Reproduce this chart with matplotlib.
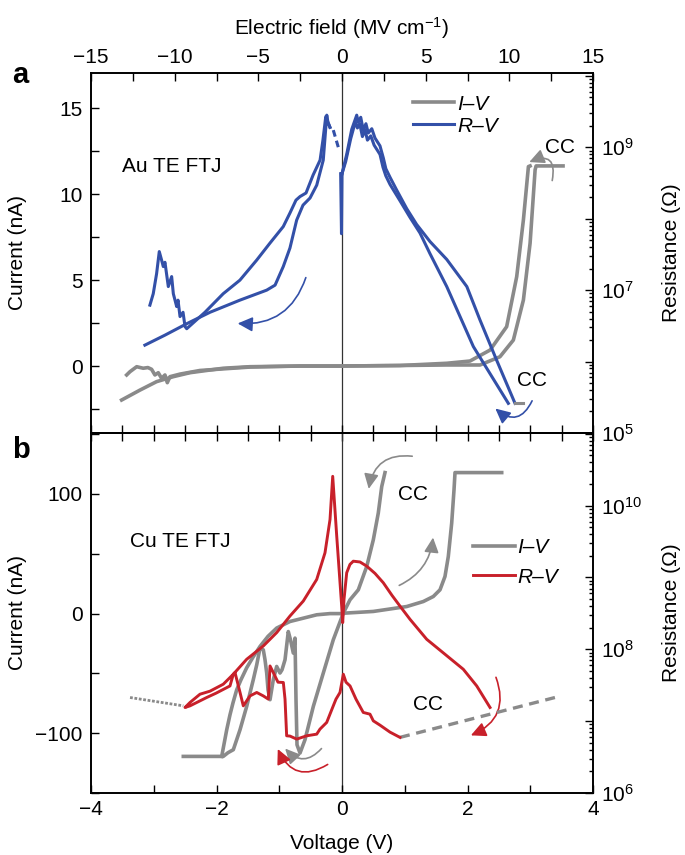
import numpy as np
import matplotlib
matplotlib.use('Agg')
import matplotlib.pyplot as plt
from matplotlib.patches import FancyArrowPatch
from matplotlib.ticker import FixedLocator, MultipleLocator, NullFormatter, FuncFormatter

plt.rcParams['font.family'] = ['Liberation Sans', 'DejaVu Sans']
plt.rcParams['mathtext.fontset'] = 'custom'
plt.rcParams['mathtext.rm'] = 'Liberation Sans'
plt.rcParams['mathtext.it'] = 'Liberation Sans:italic'
plt.rcParams['mathtext.bf'] = 'Liberation Sans:bold'
plt.rcParams['font.size'] = 15

GRAY = '#8a8a8a'
BLUE = '#3350a8'
RED = '#c8202a'

# ---------------- Panel a (Au TE FTJ), x = electric field (MV/cm) ----------------
# I-V (nA)
a_iv1_E = [-13.17, -12.07, -11.08, -10.08, -9.09, -7.10, -5.50, -2.51, 0.0, 3.47, 6.26, 8.25,
           9.44, 10.24, 10.84, 11.24, 11.54, 11.60, 13.21]
a_iv1_I = [-1.98, -1.40, -0.91, -0.62, -0.39, -0.13, -0.04, 0.0, 0.0, 0.03, 0.06, 0.06,
           0.54, 1.51, 3.84, 7.15, 11.42, 11.65, 11.65]
a_iv2_E = [-12.87, -12.67, -12.27, -11.88, -11.60, -11.38, -11.18, -10.98, -10.78, -10.58, -10.44,
           -10.28, -9.68, -8.49, -5.50, -2.51, 0.0, 3.47, 6.26, 7.65, 8.85, 9.84, 10.44, 10.84,
           11.14, 11.24]
a_iv2_I = [-0.52, -0.33, -0.04, -0.13, -0.09, -0.19, -0.52, -0.39, -0.72, -0.52, -0.97,
           -0.62, -0.47, -0.26, -0.06, 0.0, 0.0, 0.03, 0.16, 0.29, 0.93, 2.29, 5.20, 8.50,
           11.61, 11.65]

# R-V (log10 Ohm)
a_rB_E = [-11.48, -11.28, -11.08, -10.92, -10.78, -10.68, -10.58, -10.38, -10.18, -10.08, -9.88,
          -9.80, -9.68, -9.50, -9.38, -9.28, -8.19, -7.10, -6.10, -5.10, -4.30, -3.51, -3.11,
          -2.75, -2.51, -2.15, -1.73, -1.31, -1.14, -0.97, -0.84, -0.72]
a_rB_R = [6.79, 6.95, 7.23, 7.54, 7.42, 7.33, 7.39, 7.05, 7.19, 6.95, 6.77,
          6.86, 6.63, 6.69, 6.49, 6.46, 6.69, 6.95, 7.14, 7.42, 7.66, 7.89, 8.08,
          8.26, 8.31, 8.36, 8.61, 8.82, 9.10, 9.43, 9.35, 9.28]
a_rA_E = [-11.78, -10.58, -9.28, -7.89, -6.10, -4.50, -4.00, -3.51, -3.11, -2.71, -2.33, -1.91,
          -1.51, -1.12, -0.91, -0.84, -0.72]
a_rA_R = [6.23, 6.37, 6.53, 6.69, 6.86, 7.00, 7.07, 7.33, 7.59, 7.98, 8.19, 8.29,
          8.47, 8.82, 9.45, 9.35, 9.28]
a_dash_E = [-0.52, -0.22]
a_dash_R = [9.24, 9.00]
a_dip_E = [-0.08, -0.03, 0.0]
a_dip_R = [8.63, 7.79, 8.63]
a_rX_E = [0.0, 0.28, 0.58, 0.88, 0.97, 1.12, 1.27, 1.43, 1.57, 1.78, 1.97, 2.27, 2.47, 2.62,
          2.87, 3.27, 3.87, 4.46, 5.26, 6.26, 7.46, 8.25, 9.24, 10.34]
a_rX_R = [8.63, 8.90, 9.25, 9.45, 9.35, 9.42, 9.24, 9.33, 9.20, 9.26, 9.13, 9.02, 8.85, 8.70,
          8.58, 8.40, 8.14, 7.92, 7.68, 7.43, 7.05, 6.58, 6.02, 5.415]
a_rY_E = [0.0, 0.22, 0.52, 0.80, 0.92, 1.06, 1.22, 1.38, 1.52, 1.72, 1.92, 2.27, 2.45, 2.62,
          2.87, 3.47, 4.06, 4.66, 5.26, 6.26, 7.85, 9.94]
a_rY_R = [8.63, 8.80, 9.12, 9.36, 9.27, 9.33, 9.15, 9.24, 9.10, 9.16, 9.03, 8.90, 8.72, 8.60,
          8.48, 8.25, 8.02, 7.80, 7.51, 7.05, 6.21, 5.415]
a_tail_E = [10.34, 10.84]
a_tail_R = [5.415, 5.415]

# ---------------- Panel b (Cu TE FTJ), x = voltage (V) ----------------
b_set_V = [0.0, 0.048, 0.499, 1.031, 1.296, 1.455, 1.562, 1.641, 1.694, 1.748, 1.785, 1.801, 2.545]
b_set_I = [0.0, 0.4, 1.8, 5.9, 10.1, 14.3, 19.9, 31.0, 47.7, 75.6, 103.5, 117.9, 117.9]
b_reset_V = [0.685, 0.633, 0.578, 0.499, 0.394, 0.260, 0.127, 0.021, -0.139, -0.298, -0.457,
             -0.590, -0.669, -0.717, -0.733, -0.749, -0.776, -0.821, -0.856, -0.908, -0.956,
             -0.988, -1.041, -1.095, -1.147, -1.179, -1.200, -1.227, -1.254, -1.307, -1.359,
             -1.414, -1.519, -1.625, -1.732, -1.817, -1.892, -2.529]
b_reset_I = [117.9, 106.2, 84.0, 61.7, 39.4, 19.9, 11.5, 0.4, -21.9, -49.7, -77.6,
             -105.5, -116.6, -109.7, -72.0, -20.5, -33.0, -21.9, -15.0, -38.6, -47.0,
             -49.7, -44.2, -55.3, -72.0, -63.7, -49.7, -38.6, -30.3, -28.8, -42.8,
             -55.3, -77.6, -97.1, -113.8, -116.3, -119.4, -119.4]
b_ret_V = [-1.917, -1.837, -1.785, -1.737, -1.678, -1.610, -1.519, -1.414, -1.307, -1.179,
           -1.041, -0.829, -0.722, -0.403, -0.191, 0.0]
b_ret_I = [-119.4, -97.1, -84.6, -74.6, -63.7, -55.3, -45.3, -36.1, -27.5, -19.0,
           -12.1, -6.6, -5.2, -1.0, 0.0, 0.0]

b_rv_V = [0.924, 0.765, 0.606, 0.499, 0.446, 0.339, 0.223, 0.128, 0.064, 0.021,
          -0.032, -0.096, -0.139, -0.244, -0.351, -0.403, -0.563, -0.722, -0.829, -0.882,
          -0.908, -0.935, -1.020, -1.095, -1.147, -1.174, -1.254, -1.359, -1.466, -1.573,
          -1.625, -1.705, -1.732,
          -1.785, -2.008, -2.156, -2.422, -2.502,
          -2.422, -2.263, -2.104, -1.892, -1.732,
          -1.519, -1.254, -1.041, -0.829, -0.617, -0.403, -0.271, -0.191, -0.148, -0.084,
          -0.005, 0.011,
          0.032, 0.075, 0.127, 0.180, 0.287, 0.394, 0.526, 0.658, 0.797, 0.924, 1.084,
          1.350, 1.641, 1.933, 2.147, 2.359]
b_rv_R = [6.774, 6.847, 6.944, 7.004, 7.097, 7.121, 7.306, 7.490, 7.542, 7.653,
          7.399, 7.306, 7.213, 6.982, 6.889, 6.819, 6.796, 6.750, 6.792, 6.796,
          7.306, 7.538, 7.542, 7.676, 7.768, 7.306, 7.351, 7.399, 7.351, 7.213,
          7.399, 7.676, 7.653,
          7.490, 7.389, 7.329, 7.213, 7.190,
          7.260, 7.375, 7.417, 7.514, 7.653,
          7.861, 8.046, 8.232, 8.463, 8.671, 8.972, 9.343, 9.806, 10.407, 9.574,
          8.601, 8.371,
          8.694, 9.065, 9.181, 9.226, 9.215, 9.157, 9.056, 8.926, 8.750, 8.601, 8.417,
          8.139, 7.931, 7.722, 7.490, 7.190]
b_cc1_V = [-3.378, -2.529]
b_cc1_R = [7.329, 7.213]
b_cc2_V = [0.924, 3.394]
b_cc2_R = [6.774, 7.329]

# ---------------- figure ----------------
W, H = 685, 855
L, Rr = 91, 593
fig = plt.figure(figsize=(W / 100, H / 100), dpi=100)
ax_a = fig.add_axes([L / W, 1 - 433 / H, (Rr - L) / W, 360 / H])
ax_b = fig.add_axes([L / W, 1 - 793 / H, (Rr - L) / W, 360 / H])


def log_axis(ax, lo, hi, labeled):
    ax.set_yscale('log')
    ax.set_ylim(10.0 ** lo, 10.0 ** hi)
    decades = list(range(int(np.floor(lo)), int(np.ceil(hi)) + 1))
    ax.yaxis.set_major_locator(FixedLocator([10.0 ** d for d in decades]))
    ax.yaxis.set_minor_locator(FixedLocator([s * 10.0 ** d for d in decades for s in range(2, 10)]))
    ax.yaxis.set_minor_formatter(NullFormatter())
    ax.yaxis.set_major_formatter(FuncFormatter(
        lambda v, p: (f'$10^{{{int(round(np.log10(v)))}}}$' if int(round(np.log10(v))) in labeled else '')))
    ax.tick_params(which='both', direction='in', pad=6, labelsize=15, width=1)
    ax.tick_params(which='major', length=6)
    ax.tick_params(which='minor', length=3)
    for s in ax.spines.values():
        s.set_linewidth(1.2)
    ax.set_ylabel('Resistance (Ω)', fontsize=15)
    ax.yaxis.set_label_coords(1.137, 0.5)


def carrow(ax, start, end, rad, color):
    p = FancyArrowPatch(start, end, connectionstyle=f'arc3,rad={rad}',
                        arrowstyle='-|>,head_length=0.45,head_width=0.22',
                        mutation_scale=20, color=color, lw=1.2, transform=ax.transData,
                        zorder=5)
    ax.add_patch(p)


for ax in (ax_a, ax_b):
    for s in ax.spines.values():
        s.set_linewidth(1.2)

# ---- panel a ----
ax_a.set_xlim(-15, 15)
ax_a.set_ylim(-3.9, 17.06)
ax_a.xaxis.tick_top()
ax_a.xaxis.set_label_position('top')
ax_a.set_xticks(np.arange(-15, 16, 5))
ax_a.xaxis.set_minor_locator(MultipleLocator(2.5))
ax_a.set_yticks([0, 5, 10, 15])
ax_a.yaxis.set_minor_locator(MultipleLocator(2.5))
ax_a.tick_params(which='both', direction='in', top=True, bottom=False, left=True, right=False,
                 labeltop=True, labelbottom=False, pad=6, labelsize=15, length=6, width=1)
ax_a.tick_params(axis='x', pad=4)
ax_a.set_xlabel('Electric field (MV cm$^{-1}$)', fontsize=15, labelpad=10)
ax_a.set_ylabel('Current (nA)', fontsize=15)
ax_a.yaxis.set_label_coords(-0.128, 0.5)
ax_a.axvline(0, color='#333333', lw=0.9, zorder=1)

l_iv_a, = ax_a.plot(a_iv1_E, a_iv1_I, color=GRAY, lw=2.6, solid_joinstyle='round')
ax_a.plot(a_iv2_E, a_iv2_I, color=GRAY, lw=2.6, solid_joinstyle='round')

ax_a2 = ax_a.twinx()
log_axis(ax_a2, 5, 10.04, (5, 7, 9))
l_rv_a, = ax_a2.plot(a_rB_E, 10.0 ** np.array(a_rB_R), color=BLUE, lw=2.2)
ax_a2.plot(a_rA_E, 10.0 ** np.array(a_rA_R), color=BLUE, lw=2.2)
ax_a2.plot(a_dash_E, 10.0 ** np.array(a_dash_R), color=BLUE, lw=2.2, ls=(0, (2.2, 1.4)))
ax_a2.plot(a_dip_E, 10.0 ** np.array(a_dip_R), color=BLUE, lw=2.2)
ax_a2.plot(a_rX_E, 10.0 ** np.array(a_rX_R), color=BLUE, lw=2.2)
ax_a2.plot(a_rY_E, 10.0 ** np.array(a_rY_R), color=BLUE, lw=2.2)
ax_a2.plot(a_tail_E, 10.0 ** np.array(a_tail_R), color=GRAY, lw=2.2)

ax_a2.legend([l_iv_a, l_rv_a], ['I–V', 'R–V'], loc='upper left', bbox_to_anchor=(0.641, 0.94),
             frameon=False, borderpad=0, borderaxespad=0, handlelength=2.0, handletextpad=0.12,
             labelspacing=0.15, prop={'style': 'italic', 'size': 15})

ax_a.text(-13.15, 11.59, 'Au TE FTJ', fontsize=15, ha='left', va='center')
ax_a.text(12.13, 12.70, 'CC', fontsize=15, ha='left', va='center')
ax_a.text(10.46, -0.82, 'CC', fontsize=15, ha='left', va='center')
carrow(ax_a, (-2.11, 5.30), (-6.40, 2.49), -0.4, BLUE)
carrow(ax_a, (12.53, 10.64), (11.04, 11.81), 1.0, GRAY)
carrow(ax_a, (11.43, -1.88), (9.04, -2.37), -0.7, BLUE)

# ---- panel b ----
ax_b.set_xlim(-4, 4)
ax_b.set_ylim(-150, 151)
ax_b.set_xticks([-4, -2, 0, 2, 4])
ax_b.xaxis.set_minor_locator(MultipleLocator(1))
ax_b.set_yticks([-100, 0, 100])
ax_b.yaxis.set_minor_locator(MultipleLocator(50))
ax_b.tick_params(which='both', direction='in', top=False, right=False, pad=6, labelsize=15,
                 length=6, width=1)
ax_b.tick_params(axis='x', pad=5)
ax_b.set_xlabel('Voltage (V)', fontsize=15)
ax_b.xaxis.set_label_coords(0.5, -0.115)
ax_b.set_ylabel('Current (nA)', fontsize=15)
ax_b.yaxis.set_label_coords(-0.128, 0.5)
ax_b.axvline(0, color='#333333', lw=0.9, zorder=1)
sec = ax_b.secondary_xaxis('top')
sec.set_xticks(np.arange(-4, 4.01, 0.5))
sec.xaxis.set_major_formatter(NullFormatter())
sec.tick_params(direction='inout', length=11, width=1)
sec.spines['top'].set_linewidth(1.2)

l_iv_b, = ax_b.plot(b_set_V, b_set_I, color=GRAY, lw=2.6, solid_joinstyle='round')
ax_b.plot(b_reset_V, b_reset_I, color=GRAY, lw=2.6, solid_joinstyle='round')
ax_b.plot(b_ret_V, b_ret_I, color=GRAY, lw=2.6, solid_joinstyle='round')

ax_b2 = ax_b.twinx()
log_axis(ax_b2, 6, 11.01, (6, 8, 10))
ax_b2.plot(b_cc1_V, 10.0 ** np.array(b_cc1_R), color=GRAY, lw=2.0, ls=(0, (1, 0.6)))
ax_b2.plot(b_cc2_V, 10.0 ** np.array(b_cc2_R), color=GRAY, lw=2.4, ls=(0, (3, 2)))
l_rv_b, = ax_b2.plot(b_rv_V, 10.0 ** np.array(b_rv_R), color=RED, lw=2.1, solid_joinstyle='round')

ax_b2.legend([l_iv_b, l_rv_b], ['I–V', 'R–V'], loc='upper left', bbox_to_anchor=(0.761, 0.708),
             frameon=False, borderpad=0, borderaxespad=0, handlelength=2.0, handletextpad=0.12,
             labelspacing=0.5, prop={'style': 'italic', 'size': 15})

ax_b.text(-3.378, 60.3, 'Cu TE FTJ', fontsize=15, ha='left', va='center')
ax_b.text(0.892, 99.3, 'CC', fontsize=15, ha='left', va='center')
ax_b.text(1.131, -76.2, 'CC', fontsize=15, ha='left', va='center')
carrow(ax_b, (1.163, 131.3), (0.419, 102.0), 0.5, GRAY)
carrow(ax_b, (0.872, 22.6), (1.455, 65.9), 0.3, GRAY)
carrow(ax_b, (-0.298, -111.1), (-0.935, -111.1), -0.6, GRAY)
carrow(ax_b, (-0.191, -124.9), (-1.041, -111.1), -0.6, RED)
carrow(ax_b, (2.438, -51.1), (2.013, -102.7), -0.5, RED)

fig.text(12 / W, 1 - 75 / H, 'a', fontsize=21, fontweight='bold', ha='left', va='center')
fig.text(12 / W, 1 - 450 / H, 'b', fontsize=21, fontweight='bold', ha='left', va='center')

fig.savefig('out.png', dpi=100)
